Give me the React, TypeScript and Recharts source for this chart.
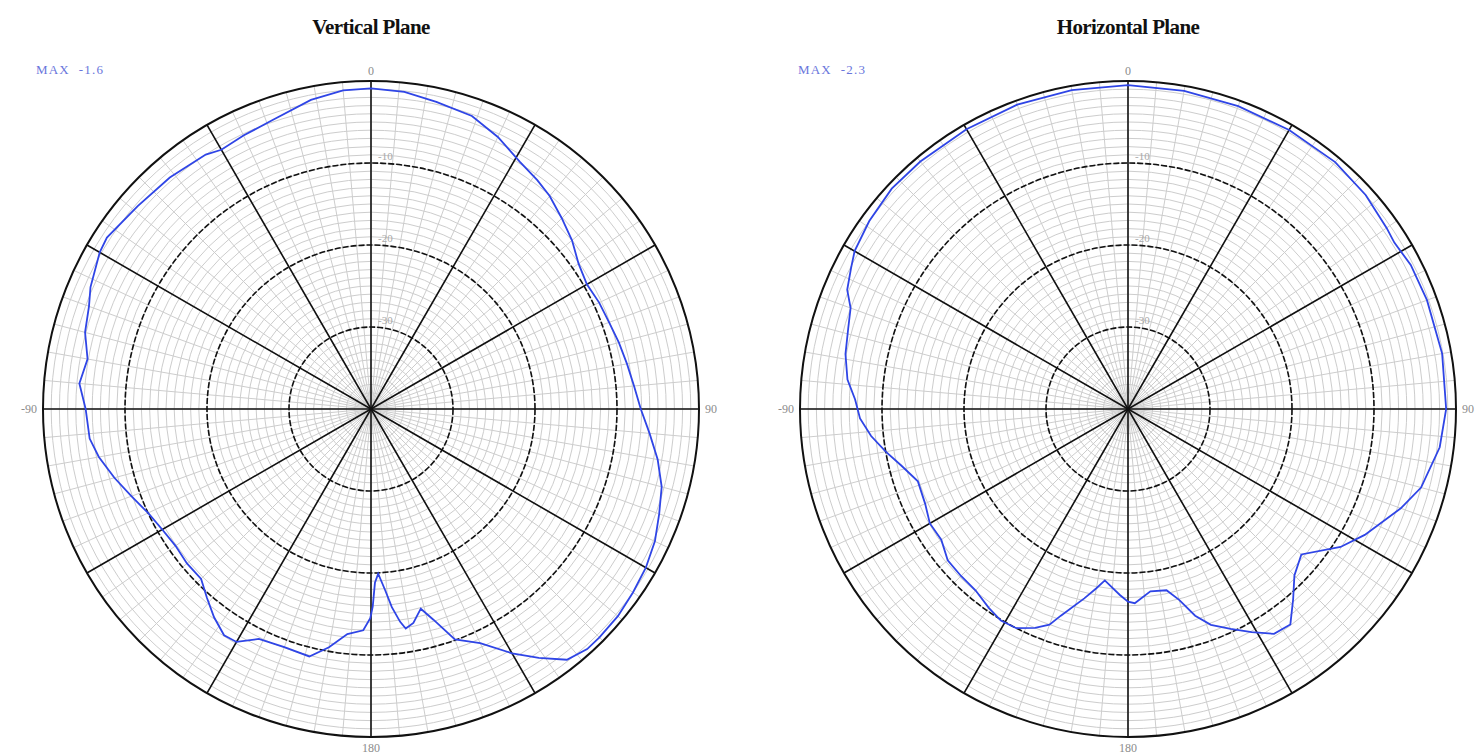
import React from 'react';
import { RadarChart, Radar, PolarGrid, PolarAngleAxis, PolarRadiusAxis } from 'recharts';

// angles in degrees clockwise from the top, gain in dB (normalised)
const verticalAngles = [
  0, 6, 12, 19, 25, 31, 36, 40, 45, 50, 55, 60, 65, 70, 75, 80, 85, 90, 95, 100,
  105, 110, 115, 120, 125, 130, 135, 138, 142, 146, 150, 155, 160, 163.5, 166, 168.8, 171, 172.2, 174, 175.5,
  177.5, 178.7, 179.5, 180.2, 182, 186, 190, 194, 200, 206, 210, 213, 217, 221, 225, 230, 235, 240, 245, 250,
  255, 260, 264, 270, 275, 280, 285, 290, 293.5, 300, 303, 311, 319, 327, 330, 335, 341, 349, 355,
];
const verticalGain = [
  -0.9, -1.1, -1.7, -2.2, -3.4, -4.8, -5.5, -6.1, -7.1, -8.0, -9.1, -9.6, -9.3, -9.1, -8.7, -8.3, -7.8, -7.1, -5.9, -4.5,
  -3.3, -2.6, -1.8, -1.3, -1.0, -0.7, -0.6, -0.6, -1.2, -3.4, -5.6, -8.5, -10.1, -13.2, -14.9, -13.4, -12.9, -13.8, -15.7, -17.8,
  -19.9, -18.8, -15.9, -14.5, -13.0, -12.4, -10.5, -8.9, -9.1, -8.8, -7.2, -7.1, -8.2, -9.5, -10.7, -10.7, -10.9, -10.6, -10.0, -8.9,
  -7.6, -6.3, -5.5, -5.2, -4.3, -4.9, -3.9, -3.4, -2.7, -1.8, -1.6, -2.3, -2.6, -3.0, -3.5, -3.2, -2.8, -1.6, -1.0,
];

const horizontalAngles = [
  0, 10, 20, 30, 40, 48, 55, 58, 63, 70, 80, 90, 97, 105, 110, 118, 123, 130, 135, 139,
  143, 147, 151, 155, 159, 162, 165, 168, 173, 178, 180, 182.5, 187.7, 190, 193, 198, 200, 203, 207, 211,
  215, 220, 225, 230, 235, 240, 245, 251, 256, 260, 264, 268, 272, 276, 281, 286, 290, 293, 297, 300,
  306, 313, 320, 330, 340, 350,
];
const horizontalGain = [
  -0.5, -0.6, -0.7, -0.7, -0.7, -1.0, -1.5, -1.7, -1.3, -1.2, -1.1, -1.2, -1.7, -3.0, -4.6, -7.3, -9.1, -12.4, -11.3, -9.3,
  -7.1, -7.3, -8.9, -10.4, -11.8, -13.5, -15.9, -17.4, -17.6, -16.3, -16.5, -17.3, -18.9, -17.8, -16.3, -13.5, -12.0, -11.0, -10.0, -9.9,
  -10.4, -11.1, -11.2, -11.3, -12.2, -12.1, -12.7, -12.9, -11.5, -10.0, -8.5, -7.3, -6.7, -5.6, -4.9, -4.5, -4.0, -2.8, -2.1, -1.5,
  -1.0, -0.6, -0.6, -0.6, -0.5, -0.5,
];

// grid
const minorSpokes = Array.from({ length: 72 }, (_, i) => i * 5);
const majorSpokes = [0, 30, 60, 90, 120, 150, 180, 210, 240, 270, 300, 330];
const labelAngles = [0, 90, 180, 270];
const angleLabels = ['0', '90', '180', '-90'];
const minorRings = Array.from({ length: 39 }, (_, i) => i - 39);
const majorRings = [-30, -20, -10];
const ringLabels = ['-30', '-20', '-10'];
const outerRing = [0];

const DB_MIN = -40;
const DB_MAX = 0;
const OUTER = 328;
const CY = 409;

// compass degrees -> recharts polar degrees, dB -> radius px
const toPolar = (a: number) => 90 - a;
const toRadius = (db: number) => ((db - DB_MIN) / (DB_MAX - DB_MIN)) * OUTER;

const serif = '"Liberation Serif", "DejaVu Serif", serif';

interface PatternProps {
  title: string;
  maxLabel: string;
  angles: number[];
  gains: number[];
  left: number;
  cx: number;
}

const RingTick = (props: any) => {
  const { x, y, payload } = props;
  const idx = majorRings.indexOf(payload.value);
  if (idx < 0) return <g />;
  return (
    <text x={x + 7} y={y - 3} fill="#a8a8a8" fontSize={11} fontFamily={serif}>
      {ringLabels[idx]}
    </text>
  );
};

const PolarPattern: React.FC<PatternProps> = ({ title, maxLabel, angles, gains, left, cx }) => {
  const data = angles.map((a, i) => ({ angle: a, gain: gains[i] }));
  return (
    <div style={{ position: 'absolute', left, top: 0, width: 740, height: 756 }}>
      <div
        style={{
          position: 'absolute', left: cx - 150, width: 300, top: 15, textAlign: 'center',
          fontFamily: serif, fontWeight: 'bold', fontSize: 21, color: '#111', letterSpacing: -0.6,
        }}
      >
        {title}
      </div>
      <div
        style={{
          position: 'absolute', left: left === 0 ? 36 : 58, top: 62, fontFamily: serif, fontSize: 13,
          color: '#6a76dc', whiteSpace: 'pre', letterSpacing: 1.2,
        }}
      >
        {maxLabel}
      </div>
      <RadarChart width={740} height={756} data={data} cx={cx} cy={CY} outerRadius={OUTER} startAngle={90} endAngle={-270}>
        <PolarAngleAxis
          dataKey="angle" type="number" domain={[0, 360]} ticks={labelAngles} axisLine={false} tickLine={false} tickSize={6}
          tickFormatter={(v: number) => angleLabels[labelAngles.indexOf(v)]}
          tick={{ fill: '#8c8c8c', fontSize: 12, fontFamily: serif }}
        />
        <PolarRadiusAxis type="number" domain={[DB_MIN, DB_MAX]} ticks={majorRings} angle={90} axisLine={false} tickLine={false} tick={<RingTick />} />
        <PolarGrid
          gridType="circle" polarAngles={minorSpokes.map(toPolar)} polarRadius={minorRings.map(toRadius)}
          stroke="#cdcdcd" strokeWidth={1}
        />
        <PolarGrid gridType="circle" polarAngles={majorSpokes.map(toPolar)} polarRadius={[]} stroke="#111" strokeWidth={1.6} />
        <PolarGrid
          gridType="circle" polarAngles={[]} radialLines={false} polarRadius={majorRings.map(toRadius)}
          stroke="#111" strokeWidth={1.6} strokeDasharray="6 2"
        />
        <PolarGrid gridType="circle" polarAngles={[]} radialLines={false} polarRadius={outerRing.map(toRadius)} stroke="#111" strokeWidth={2} />
        <Radar dataKey="gain" stroke="#2f45e6" strokeWidth={1.8} fill="none" fillOpacity={0} dot={false} isAnimationActive={false} />
      </RadarChart>
    </div>
  );
};

export default function App() {
  return (
    <div style={{ position: 'absolute', left: 0, top: 0, width: 1480, height: 756, background: '#fff', overflow: 'hidden' }}>
      <PolarPattern title="Vertical Plane" maxLabel="MAX  -1.6" angles={verticalAngles} gains={verticalGain} left={0} cx={371} />
      <PolarPattern title="Horizontal Plane" maxLabel="MAX  -2.3" angles={horizontalAngles} gains={horizontalGain} left={740} cx={388} />
    </div>
  );
}
